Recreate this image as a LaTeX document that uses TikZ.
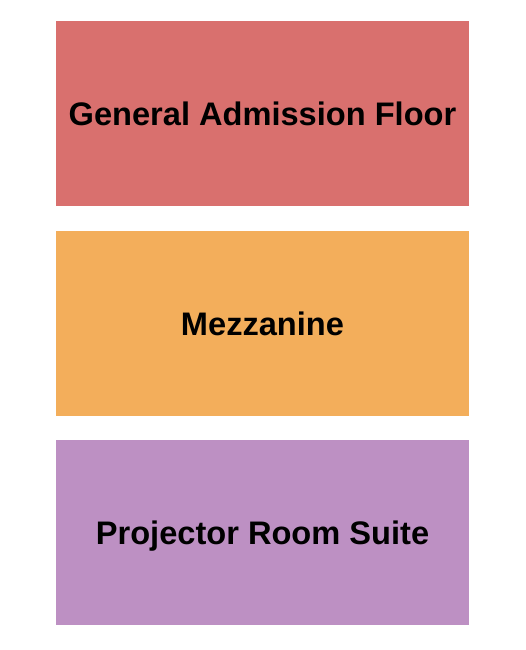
\documentclass[tikz,border=0pt]{standalone}
\usepackage{fontspec}
\setmainfont{Liberation Sans}
\definecolor{gaRed}{HTML}{D9706E}
\definecolor{mezOrange}{HTML}{F3AE5B}
\definecolor{projPurple}{HTML}{BD90C3}
\begin{document}
\begin{tikzpicture}[x=1pt,y=-1pt,
  zone/.style={draw=none, inner sep=0pt, minimum width=413pt, minimum height=185pt,
    text height=23.3pt, text depth=0pt,
    font=\fontsize{32.6}{34}\selectfont\bfseries, text=black}]
\useasboundingbox (0,0) rectangle (525,650);
\node[zone, fill=gaRed] (ga) at (262.5,113.5) {General Admission Floor};
\node[zone, fill=mezOrange] (mez) at (262.5,323.5) {Mezzanine};
\node[zone, fill=projPurple] (proj) at (262.5,532.5) {Projector Room Suite};
\end{tikzpicture}
\end{document}
